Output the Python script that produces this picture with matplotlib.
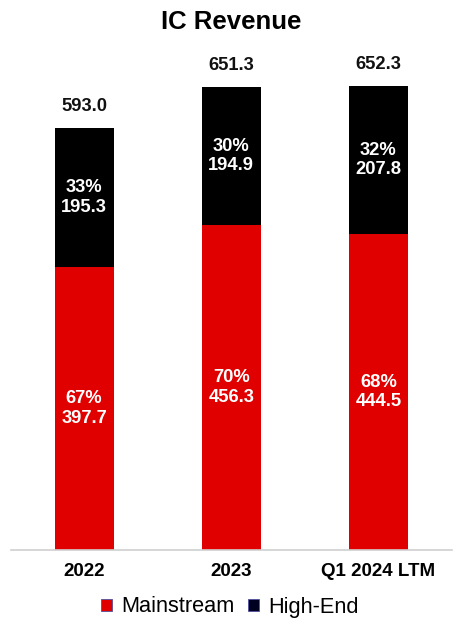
import matplotlib
matplotlib.use("Agg")
import matplotlib.pyplot as plt
from matplotlib.patches import Patch

plt.rcParams['font.family'] = ['Liberation Sans', 'DejaVu Sans']

categories = ['2022', '2023', 'Q1 2024 LTM']
mainstream = [397.7, 456.3, 444.5]
high_end = [195.3, 194.9, 207.8]
totals = [593.0, 651.3, 652.3]
main_pct = ['67%', '70%', '68%']
high_pct = ['33%', '30%', '32%']

red = '#E00000'
black = '#000000'

fig = plt.figure(figsize=(4.62, 6.30), dpi=100)
ax = fig.add_axes([10.5 / 462, 80 / 630, 441.5 / 462, 498 / 630])

x = range(len(categories))
ax.bar(x, mainstream, width=0.4, color=red)
ax.bar(x, high_end, width=0.4, bottom=mainstream, color=black)

for i in x:
    ax.text(i, mainstream[i] / 2, f"{main_pct[i]}\n{mainstream[i]:.1f}",
            ha='center', va='center', color='white', fontsize=13.2,
            fontweight='bold', linespacing=1.2)
    ax.text(i, mainstream[i] + high_end[i] / 2, f"{high_pct[i]}\n{high_end[i]:.1f}",
            ha='center', va='center', color='white', fontsize=13.2,
            fontweight='bold', linespacing=1.2)
    ax.text(i, totals[i] + 30, f"{totals[i]:.1f}", ha='center', va='center',
            fontsize=13.2, fontweight='bold', color='#111111')

ax.set_xlim(-0.5, 2.5)
ax.set_ylim(0, 700)
ax.set_yticks([])
ax.set_xticks(list(x))
ax.set_xticklabels(categories, fontsize=13.5, fontweight='bold')
ax.tick_params(axis='x', length=0, pad=9)
for s in ['top', 'right', 'left']:
    ax.spines[s].set_visible(False)
ax.spines['bottom'].set_color('#D0D0D0')
ax.spines['bottom'].set_linewidth(1.2)

fig.text(0.5, 1 - 22 / 630, 'IC Revenue', ha='center', va='center',
         fontsize=18.5, fontweight='bold')

handles = [Patch(facecolor=red, edgecolor='#5050A0', linewidth=0.6),
           Patch(facecolor='#000020', edgecolor='#5050A0', linewidth=0.6)]
fig.legend(handles, ['Mainstream', 'High-End'], loc='center',
           bbox_to_anchor=(230 / 462, 1 - 607 / 630), ncol=2, frameon=False,
           fontsize=15.7, handlelength=0.5, handleheight=0.5,
           handletextpad=0.45, columnspacing=0.6)

fig.savefig('out.png', dpi=100)
